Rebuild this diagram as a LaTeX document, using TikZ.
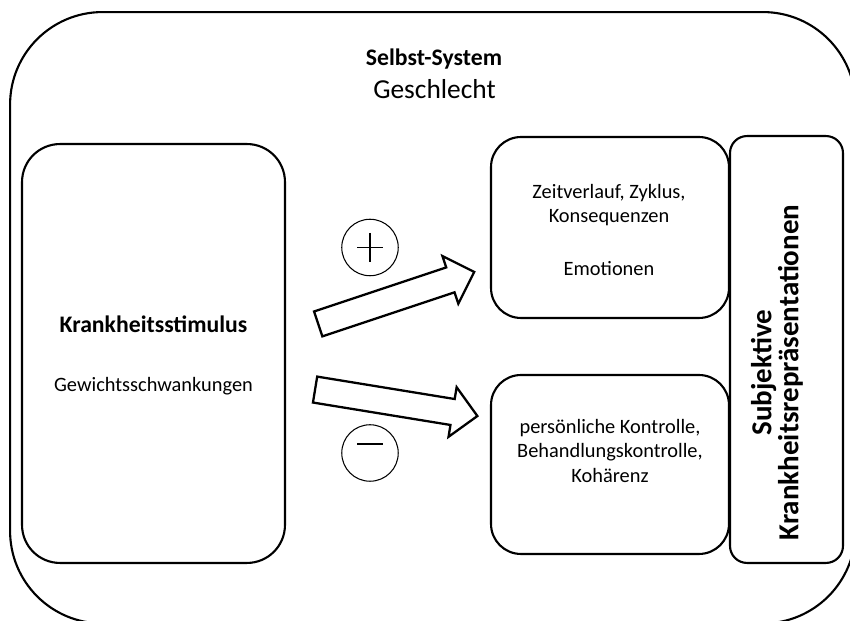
\documentclass[tikz,border=0pt]{standalone}
\usepackage{fontspec}
\setmainfont{Carlito}
\usetikzlibrary{positioning}
\usetikzlibrary{calc}
\usetikzlibrary{shapes.arrows}
\tikzset{
        boxnode/.style={draw=black, line width=1.2pt, inner sep=0pt},
        % Outer frame
        box_frame/.style={boxnode, rounded corners=1.85cm, minimum width=16.91cm, minimum height=12.23cm},
        % Stimulus box
        box_stimulus/.style={boxnode, rounded corners=0.76cm, minimum width=5.26cm, minimum height=8.38cm},
        % Representation boxes
        box_repr/.style={boxnode, rounded corners=0.6cm, minimum width=4.76cm},
        box_slim/.style={boxnode, rounded corners=0.34cm, minimum width=2.26cm, minimum height=8.54cm},
        % Block arrows
        arrow_block/.style={single arrow, draw=black, line width=1.3pt, fill=white, inner xsep=0pt, inner ysep=0.24cm, minimum width=0.96cm, minimum height=3.29cm, single arrow head extend=0.24cm},
        % Sign circles
        sign_circle/.style={circle, draw=black, line width=0.6pt, minimum size=1.13cm, inner sep=0pt},
        sign_line/.style={line width=0.6pt},
        % Texts
        text_body/.style={align=center, inner sep=0pt, font=\fontsize{11.6}{13.7}\selectfont},
        text_head/.style={align=center, inner sep=0pt, font=\bfseries\fontsize{13.5}{16}\selectfont}
}

\begin{document}
\begin{tikzpicture}[x=0.02cm, y=-0.02cm]
    \useasboundingbox (0,0) rectangle (850,621);
    \clip (0,0) rectangle (850,621);

    \node[box_frame] (frame) at (432.75,317.75) {};
    \node[box_stimulus] (stimulus) at (153.5,353.5) {};
    \node[box_repr, minimum height=3.62cm] (repr_top) at (610,227.5) {};
    \node[box_repr, minimum height=3.58cm] (repr_bottom) at (610,464.5) {};
    \node[box_slim] (repr_side) at (786.5,349.5) {};

    % arrows
    \node[arrow_block, rotate=18.43] (arrow_plus) at (390,300) {};
    \node[arrow_block, rotate=-9.26] (arrow_minus) at (389.75,401.75) {};

    % signs
    \node[sign_circle] (sign_plus) at (370,247.5) {};
    \draw[sign_line] ($(sign_plus)+(-13,0)$) -- ($(sign_plus)+(13,0)$);
    \draw[sign_line] ($(sign_plus)+(0,-14.5)$) -- ($(sign_plus)+(0,14.5)$);
    \node[sign_circle] (sign_minus) at (370,453) {};
    \draw[sign_line] ($(sign_minus)+(-13,-9)$) -- ($(sign_minus)+(13,-9)$);

    % texts
    \node[text_head, anchor=base] (self_title) at (434,66) {Selbst-System};
    \node[text_body, font=\fontsize{15.6}{19}\selectfont, anchor=base] (self_gender) at (434.5,99) {Geschlecht};
    \node[text_head, anchor=base] (stimulus_title) at (153.5,333) {Krankheitsstimulus};
    \node[text_body, anchor=base] (stimulus_text) at (153.5,392) {Gewichtsschwankungen};
    \node[text_body] (repr_top_text) at (609,230) {Zeitverlauf, Zyklus,\\Konsequenzen\\[16.5pt]Emotionen};
    \node[text_body] (repr_bottom_text) at (610,451) {persönliche Kontrolle,\\Behandlungskontrolle,\\Kohärenz};
    \node[text_head, font=\bfseries\fontsize{16.5}{15.4}\selectfont, rotate=90] (repr_side_text) at (777,372.5) {Subjektive\\Krankheitsrepräsentationen};
\end{tikzpicture}
\end{document}
